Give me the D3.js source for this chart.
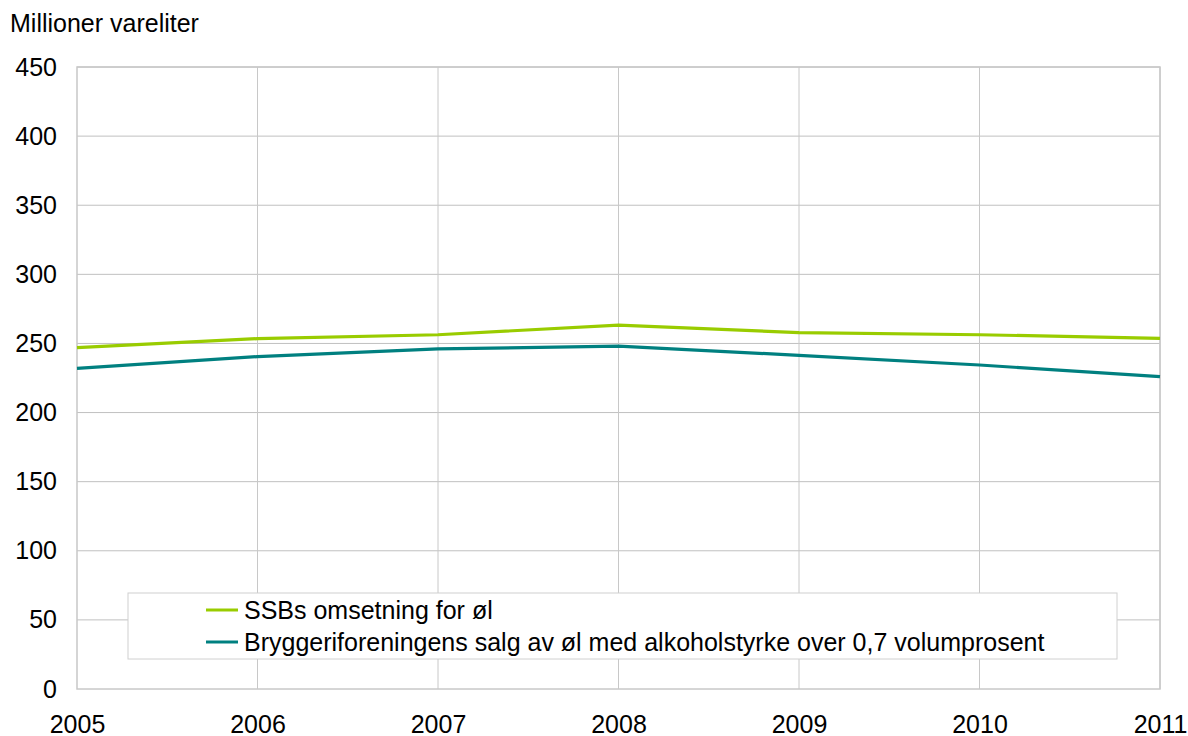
<!DOCTYPE html>
<html>
<head>
<meta charset="utf-8">
<script src="https://cdn.jsdelivr.net/npm/d3@7"></script>
<style>
  body { margin: 0; background: #fff; }
  text { font-family: "Liberation Sans", Arial, sans-serif; fill: #000; }
</style>
</head>
<body>
<svg id="chart" width="1188" height="736"></svg>
<script>
// data
const years = [2005, 2006, 2007, 2008, 2009, 2010, 2011];
const ssb = [247, 253.5, 256.3, 263.3, 257.8, 256.3, 253.7];
const bryggeri = [232, 240.5, 246, 248, 241.4, 234.4, 226];
const yTicks = [0, 50, 100, 150, 200, 250, 300, 350, 400, 450];
const seriesNames = [
  "SSBs omsetning for øl",
  "Bryggeriforeningens salg av øl med alkoholstyrke over 0,7 volumprosent"
];
const colors = ["#99cc00", "#008080"];

const svg = d3.select("#chart");
const pad = { top: 67, right: 28, bottom: 47, left: 77 };
const width = +svg.attr("width");
const height = +svg.attr("height");
const fontSize = "25px";

const x = d3.scaleLinear()
  .domain([2005, 2011])
  .range([pad.left, width - pad.right]);
const y = d3.scaleLinear()
  .domain([0, 450])
  .range([height - pad.bottom, pad.top]);

// grid
svg.append("g")
  .selectAll("line.h")
  .data(yTicks.slice(1))
  .enter()
  .append("line")
  .attr("x1", pad.left)
  .attr("x2", width - pad.right)
  .attr("y1", d => y(d))
  .attr("y2", d => y(d))
  .attr("stroke", "#c0c0c0")
  .attr("stroke-width", 1);

svg.append("g")
  .selectAll("line.v")
  .data(years.slice(1))
  .enter()
  .append("line")
  .attr("x1", d => x(d))
  .attr("x2", d => x(d))
  .attr("y1", pad.top)
  .attr("y2", height - pad.bottom)
  .attr("stroke", "#c8c8c8")
  .attr("stroke-width", 1);

// plot border
svg.append("rect")
  .attr("x", pad.left)
  .attr("y", pad.top)
  .attr("width", width - pad.left - pad.right)
  .attr("height", height - pad.top - pad.bottom)
  .attr("fill", "none")
  .attr("stroke", "#c8c8c8")
  .attr("stroke-width", 1.5);

// axes
const yAxis = d3.axisLeft(y).tickValues(yTicks).tickSize(0).tickPadding(20);
svg.append("g")
  .attr("transform", `translate(${pad.left},0)`)
  .call(yAxis)
  .call(g => g.select(".domain").remove())
  .attr("font-size", fontSize)
  .attr("font-family", "Liberation Sans, Arial, sans-serif");

const xAxis = d3.axisBottom(x).tickValues(years).tickFormat(d3.format("d")).tickSize(0).tickPadding(26);
svg.append("g")
  .attr("transform", `translate(0,${height - pad.bottom})`)
  .call(xAxis)
  .call(g => g.select(".domain").remove())
  .attr("font-size", fontSize)
  .attr("font-family", "Liberation Sans, Arial, sans-serif");

// y label
svg.append("text")
  .attr("x", 10)
  .attr("y", 32)
  .attr("font-size", fontSize)
  .text("Millioner vareliter");

// lines
const line = d3.line()
  .x((d, i) => x(years[i]))
  .y(d => y(d));

[ssb, bryggeri].forEach((s, i) => {
  svg.append("path")
    .datum(s)
    .attr("d", line)
    .attr("fill", "none")
    .attr("stroke", colors[i])
    .attr("stroke-width", 3.2)
    .attr("stroke-linejoin", "round");
});

// legend
const legend = svg.append("g").attr("transform", "translate(128,593)");
legend.append("rect")
  .attr("width", 989)
  .attr("height", 66)
  .attr("fill", "#fff")
  .attr("stroke", "#d0d0d0")
  .attr("stroke-width", 1);

seriesNames.forEach((name, i) => {
  const row = legend.append("g").attr("transform", `translate(0,${17 + i * 32})`);
  row.append("line")
    .attr("x1", 78)
    .attr("x2", 110)
    .attr("y1", 0)
    .attr("y2", 0)
    .attr("stroke", colors[i])
    .attr("stroke-width", 3);
  row.append("text")
    .attr("x", 116)
    .attr("y", 9)
    .attr("font-size", fontSize)
    .text(name);
});
</script>
</body>
</html>
